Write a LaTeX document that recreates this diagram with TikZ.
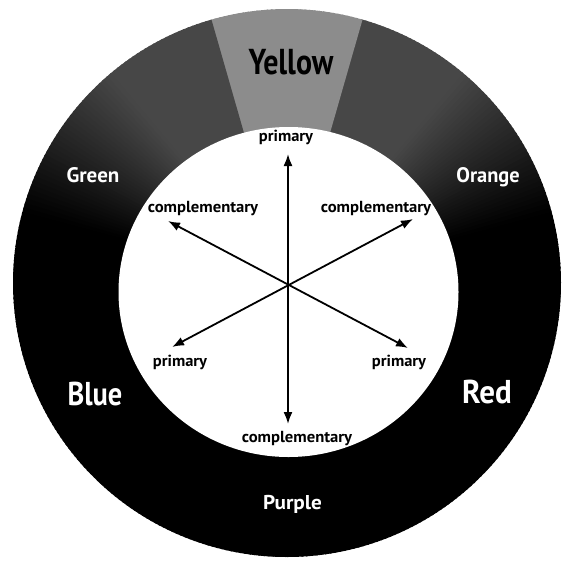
\documentclass[tikz,border=0pt]{standalone}
\usepackage{fontspec}
\setmainfont{PT Sans}
\usetikzlibrary{arrows.meta}
\newcommand{\hsq}[2]{\scalebox{#1}[1]{#2}}
\newcommand{\fs}[1]{\fontsize{#1}{#1}\selectfont\bfseries}
\begin{document}
\begin{tikzpicture}[x=1pt,y=-1pt,
  ringlab/.style={text=white,inner sep=0pt,anchor=base},
  yellowlab/.style={text=black,inner sep=0pt,anchor=base},
  innerlab/.style={text=black,inner sep=0pt,anchor=base},
  dbl/.style={line width=1.8pt,{Latex[length=12pt,width=9pt]}-{Latex[length=12pt,width=9pt]}}]
\useasboundingbox[fill=white] (0,0) rectangle (564,560);
% ring with grey gradient
\begin{scope}[shift={(287,283)},yscale=-1]
  \foreach \a in {-90,...,269} {
    \pgfmathsetmacro\d{abs(\a+0.5-90)}
    \pgfmathsetmacro\g{\d<=16 ? 45 : min(100, 72+max(0,\d-40)*28/35)}
    \fill[black!\g] (0,0) -- (\a:274) arc[start angle=\a, end angle=\a+1.4, radius=274] -- cycle;
  }
\end{scope}
% inner white disc
\fill[white] (288.5,292) ellipse[x radius=170, y radius=165];
% ring labels
\node[yellowlab] (yellow) at (291,74) {\fs{36}\hsq{0.83}{Yellow}};
\node[ringlab] (green) at (93,182) {\fs{21}\hsq{1.0}{Green}};
\node[ringlab] (orange) at (488,182) {\fs{21}\hsq{0.97}{Orange}};
\node[ringlab] (blue) at (95,405) {\fs{33}\hsq{0.86}{Blue}};
\node[ringlab] (red) at (487,403) {\fs{33}\hsq{0.94}{Red}};
\node[ringlab] (purple) at (292.5,509) {\fs{20}\hsq{1.06}{Purple}};
% inner labels
\node[innerlab] (ptop) at (286,141) {\fs{16}\hsq{1.03}{primary}};
\node[innerlab] (cleft) at (203,212) {\fs{16}\hsq{1.04}{complementary}};
\node[innerlab] (cright) at (376,212) {\fs{16}\hsq{1.04}{complementary}};
\node[innerlab] (pleft) at (180,366) {\fs{16}\hsq{1.03}{primary}};
\node[innerlab] (pright) at (399,366) {\fs{16}\hsq{1.03}{primary}};
\node[innerlab] (cbot) at (297,442) {\fs{16}\hsq{1.04}{complementary}};
% arrow end points
\coordinate (vt) at (288,154);
\coordinate (vb) at (288,424);
\coordinate (ul) at (168,221);
\coordinate (lr) at (408,348);
\coordinate (ur) at (413,219);
\coordinate (ll) at (172,347);
\draw[dbl] (vt) -- (vb);
\draw[dbl] (ul) -- (lr);
\draw[dbl] (ur) -- (ll);
\end{tikzpicture}
\end{document}
